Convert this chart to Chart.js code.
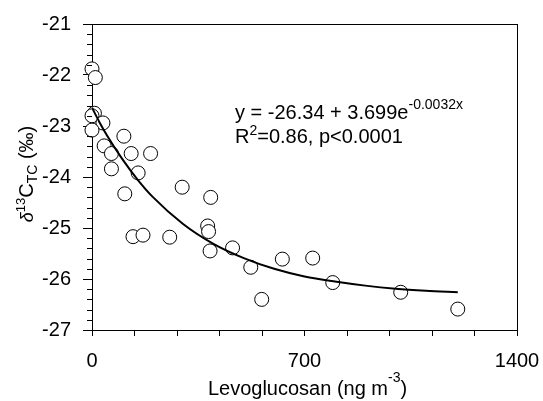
<!DOCTYPE html>
<html>
<head>
<meta charset="utf-8">
<script src="https://cdn.jsdelivr.net/npm/chart.js@4.4.1/dist/chart.umd.min.js"></script>
<style>
  html, body { margin: 0; padding: 0; background: #ffffff; }
  #wrap { width: 543px; height: 401px; }
</style>
</head>
<body>
<div id="wrap"><canvas id="c" width="543" height="401"></canvas></div>
<script>
// ---- data ----
const levoglucosan = [0, 11, 8, 0, 36, 0, 105, 40, 64, 129, 193, 64, 152, 108, 297, 135, 168, 256, 391, 381, 384, 389, 463, 523, 559, 627, 727, 793, 1017, 1205];
const d13C_TC      = [-21.88, -22.05, -22.75, -22.80, -22.94, -23.08, -23.20, -23.39, -23.54, -23.54, -23.54, -23.84, -23.92, -24.33, -24.20, -25.17, -25.14, -25.18, -24.40, -24.96, -25.07, -25.45, -25.39, -25.77, -26.40, -25.61, -25.59, -26.07, -26.26, -26.59];

// fitted curve, sampled points
const fitX = [0, 25, 50, 100, 150, 200, 300, 400, 500, 600, 700, 800, 900, 1000, 1100, 1205];
const fitY = [-22.64, -22.93, -23.19, -23.65, -24.05, -24.39, -24.92, -25.31, -25.59, -25.80, -25.95, -26.05, -26.13, -26.19, -26.23, -26.26];

// axis ticks
const xTickLabels = [0, 700, 1400];
const yTickLabels = [-27, -26, -25, -24, -23, -22, -21];

const FONT = "'Liberation Sans', Arial, Helvetica, sans-serif";

const points = levoglucosan.map((x, i) => ({ x: x, y: d13C_TC[i] }));
const curve = fitX.map((x, i) => ({ x: x, y: fitY[i] }));

function drawRich(ctx, segs, x, y) {
  let cx = x;
  for (const s of segs) {
    ctx.font = s.font;
    ctx.fillText(s.t, cx, y + (s.dy || 0));
    cx += ctx.measureText(s.t).width;
  }
}
function richWidth(ctx, segs) {
  let w = 0;
  for (const s of segs) { ctx.font = s.font; w += ctx.measureText(s.t).width; }
  return w;
}

const decor = {
  id: 'decor',
  afterDraw(chart) {
    const ctx = chart.ctx;
    const a = chart.chartArea;
    const ys = chart.scales.y;
    ctx.save();
    ctx.strokeStyle = '#000';
    ctx.lineWidth = 1;
    // minor y ticks
    ctx.beginPath();
    for (let k = 0; k <= 30; k++) {
      if (k % 5 === 0) continue;
      const v = ys.min + k * 0.2;
      const py = Math.round(ys.getPixelForValue(v)) + 0.5;
      ctx.moveTo(a.left - 5, py);
      ctx.lineTo(a.left, py);
    }
    // top and right frame
    ctx.moveTo(a.left, Math.round(a.top) + 0.5);
    ctx.lineTo(a.right, Math.round(a.top) + 0.5);
    ctx.moveTo(Math.round(a.right) + 0.5, a.top);
    ctx.lineTo(Math.round(a.right) + 0.5, a.bottom + 6);
    ctx.stroke();

    ctx.fillStyle = '#000';
    ctx.textBaseline = 'alphabetic';
    ctx.textAlign = 'left';

    // x title
    const xt = [
      { t: 'Levoglucosan (ng m', font: '20px ' + FONT },
      { t: '-3', font: '14px ' + FONT, dy: -13 },
      { t: ')', font: '20px ' + FONT }
    ];
    const xw = richWidth(ctx, xt);
    drawRich(ctx, xt, (a.left + a.right) / 2 + 3 - xw / 2, 395);

    // y title (rotated)
    const yt = [
      { t: '\u03B4', font: 'italic 18px ' + FONT },
      { t: '13', font: '13px ' + FONT, dy: -8 },
      { t: 'C', font: '20px ' + FONT },
      { t: 'TC', font: '14px ' + FONT, dy: 4 },
      { t: ' (\u2030)', font: '20px ' + FONT }
    ];
    const yw = richWidth(ctx, yt);
    ctx.save();
    ctx.translate(33, (a.top + a.bottom) / 2 - 3);
    ctx.rotate(-Math.PI / 2);
    drawRich(ctx, yt, -yw / 2, 0);
    ctx.restore();

    // equation
    drawRich(ctx, [
      { t: 'y = -26.34 + 3.699e', font: '20px ' + FONT },
      { t: '-0.0032x', font: '14px ' + FONT, dy: -10 }
    ], 235, 119);
    drawRich(ctx, [
      { t: 'R', font: '20px ' + FONT },
      { t: '2', font: '14px ' + FONT, dy: -8 },
      { t: '=0.86, p<0.0001', font: '20px ' + FONT }
    ], 235, 143);
    ctx.restore();
  }
};

new Chart(document.getElementById('c'), {
  type: 'scatter',
  data: {
    datasets: [
      {
        type: 'line',
        data: curve,
        borderColor: '#000',
        borderWidth: 2,
        pointRadius: 0,
        fill: false,
        cubicInterpolationMode: 'monotone'
      },
      {
        data: points,
        pointRadius: 7,
        pointBorderWidth: 1,
        pointBackgroundColor: '#fff',
        pointBorderColor: '#000',
        backgroundColor: '#fff',
        borderColor: '#000',
        clip: false
      }
    ]
  },
  options: {
    responsive: false,
    animation: false,
    layout: { padding: { top: 24, right: 26, left: 0, bottom: 0 } },
    plugins: { legend: { display: false }, tooltip: { enabled: false } },
    scales: {
      x: {
        type: 'linear',
        min: 0, max: 1400,
        afterFit(s) { s.height = 71; s.paddingLeft = 0; s.paddingRight = 0; },
        afterBuildTicks(s) {
          const t = [];
          for (let v = 0; v <= 1400; v += 140) t.push({ value: v });
          s.ticks = t;
        },
        ticks: {
          autoSkip: false,
          maxRotation: 0,
          color: '#000',
          font: { family: FONT, size: 20 },
          padding: 13,
          callback: (v) => xTickLabels.includes(v) ? String(v) : ''
        },
        grid: { drawOnChartArea: false, tickLength: 6, color: '#000', tickColor: '#000' },
        border: { color: '#000', width: 1 }
      },
      y: {
        type: 'linear',
        min: -27, max: -21,
        afterFit(s) { s.width = 92; s.paddingTop = 0; s.paddingBottom = 0; },
        afterBuildTicks(s) { s.ticks = yTickLabels.map(v => ({ value: v })); },
        ticks: {
          color: '#000',
          font: { family: FONT, size: 20 },
          padding: 12,
          callback: (v) => String(v)
        },
        grid: { drawOnChartArea: false, tickLength: 9, color: '#000', tickColor: '#000' },
        border: { color: '#000', width: 1 }
      }
    }
  },
  plugins: [decor]
});
</script>
</body>
</html>
